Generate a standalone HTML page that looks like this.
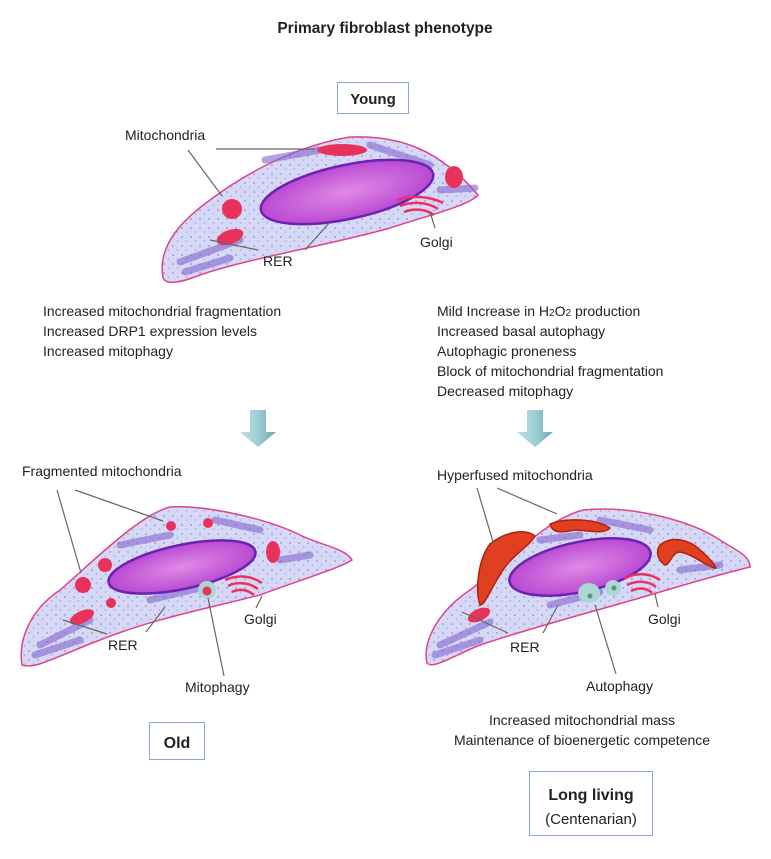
<!DOCTYPE html>
<html><head><meta charset="utf-8"><style>
html,body{margin:0;padding:0;background:#fff;width:771px;height:859px;overflow:hidden}
svg{display:block}
text{font-family:"Liberation Sans",Arial,sans-serif;fill:#222}
</style></head><body>
<svg width="771" height="859" viewBox="0 0 771 859" xmlns="http://www.w3.org/2000/svg">
<defs>
<linearGradient id="ar" x1="0" x2="1" y1="0" y2="0">
<stop offset="0" stop-color="#bfe0e2"/><stop offset="0.5" stop-color="#9ccfd3"/><stop offset="1" stop-color="#6fa9ae"/>
</linearGradient>
<radialGradient id="nuc" cx="0.5" cy="0.5" r="0.6">
<stop offset="0" stop-color="#e08ae6"/><stop offset="1" stop-color="#b23dd0"/>
</radialGradient>
<pattern id="dots" width="9" height="9" patternUnits="userSpaceOnUse">
<circle cx="2" cy="3" r="0.9" fill="#9a8ad8"/><circle cx="6.5" cy="7" r="0.8" fill="#a99ae0"/>
</pattern>
</defs>
<rect width="771" height="859" fill="#fff"/>

<text x="385" y="33" font-size="15.5" font-weight="bold" text-anchor="middle" fill="#111">Primary fibroblast phenotype</text>

<rect x="337.5" y="82.5" width="71" height="31" fill="#fff" stroke="#8aa6d6"/>
<text x="373" y="104" font-size="15" font-weight="bold" text-anchor="middle" fill="#111">Young</text>

<!-- TOP CELL -->
<g>
<path d="M163,278 C158,250 175,225 210,200 C250,170 300,145 350,137 C400,135 440,150 478,195 C470,205 430,215 390,228 C330,245 250,258 200,275 C180,283 166,285 163,278Z" fill="#d6d9f5" stroke="#e0428a" stroke-width="1.5"/>
<path d="M163,278 C158,250 175,225 210,200 C250,170 300,145 350,137 C400,135 440,150 478,195 C470,205 430,215 390,228 C330,245 250,258 200,275 C180,283 166,285 163,278Z" fill="url(#dots)"/>
<g stroke="#8566cf" stroke-width="7" stroke-linecap="round" opacity="0.6">
<path d="M180,262 L240,240"/><path d="M185,272 L230,258"/><path d="M265,160 L320,150"/><path d="M370,145 L430,165"/><path d="M300,222 L370,210"/><path d="M440,190 L475,188"/>
</g>
<ellipse cx="347" cy="192" rx="88" ry="27" transform="rotate(-12 347 192)" fill="url(#nuc)" stroke="#6b22b3" stroke-width="2.5"/>
<g fill="#e8325c">
<ellipse cx="342" cy="150" rx="25" ry="6"/>
<circle cx="232" cy="209" r="10"/>
<ellipse cx="454" cy="177" rx="9" ry="11"/>
<ellipse cx="230" cy="237" rx="14" ry="7" transform="rotate(-20 230 237)"/>
</g>
<g fill="none" stroke="#ee3060" stroke-width="2.5">
<path d="M397,200 C410,195 430,196 443,203"/><path d="M400,206 C412,201 428,202 438,209"/><path d="M404,212 C414,208 426,209 434,215"/>
</g>
</g>
<text x="125" y="140" font-size="14">Mitochondria</text>
<g stroke="#666" stroke-width="1.2" fill="none">
<line x1="216" y1="149" x2="315" y2="149"/>
<line x1="188" y1="150" x2="222" y2="196"/>
<line x1="210" y1="240" x2="258" y2="250"/>
<line x1="305" y1="250" x2="330" y2="222"/>
<line x1="435" y1="228" x2="430" y2="212"/>
</g>
<text x="263" y="266" font-size="14">RER</text>
<text x="420" y="247" font-size="14">Golgi</text>

<g font-size="14">
<text x="43" y="316">Increased mitochondrial fragmentation</text>
<text x="43" y="336">Increased  DRP1 expression levels</text>
<text x="43" y="356">Increased  mitophagy</text>
</g>
<g font-size="14">
<text x="437" y="316">Mild Increase in H<tspan font-size="10">2</tspan>O<tspan font-size="10">2</tspan> production</text>
<text x="437" y="336">Increased basal autophagy</text>
<text x="437" y="356">Autophagic proneness</text>
<text x="437" y="376">Block of mitochondrial fragmentation</text>
<text x="437" y="396">Decreased mitophagy</text>
</g>

<path d="M250,410 L266,410 L266,432 L276,432 L258,447 L240,432 L250,432Z" fill="url(#ar)"/>
<path d="M527,410 L543,410 L543,432 L553,432 L535,447 L517,432 L527,432Z" fill="url(#ar)"/>

<!-- BOTTOM LEFT CELL -->
<text x="22" y="476" font-size="14">Fragmented mitochondria</text>
<path d="M22,665 C18,640 30,610 60,590 C100,555 140,515 170,507 C210,505 270,520 300,535 C320,545 345,548 352,560 C340,568 300,580 260,595 C200,610 150,620 100,640 C60,655 35,670 22,665Z" fill="#d6d9f5" stroke="#e0428a" stroke-width="1.5"/>
<path d="M22,665 C18,640 30,610 60,590 C100,555 140,515 170,507 C210,505 270,520 300,535 C320,545 345,548 352,560 C340,568 300,580 260,595 C200,610 150,620 100,640 C60,655 35,670 22,665Z" fill="url(#dots)"/>
<g stroke="#8566cf" stroke-width="7" stroke-linecap="round" opacity="0.6">
<path d="M40,645 L90,620"/><path d="M35,655 L80,640"/><path d="M120,545 L170,535"/><path d="M215,520 L260,530"/><path d="M150,600 L200,588"/><path d="M280,560 L310,555"/>
</g>
<ellipse cx="182" cy="567" rx="75" ry="22" transform="rotate(-12 182 567)" fill="url(#nuc)" stroke="#6b22b3" stroke-width="2.5"/>
<g fill="#e8325c">
<circle cx="171" cy="526" r="5"/><circle cx="208" cy="523" r="5"/>
<circle cx="105" cy="565" r="7"/><circle cx="83" cy="585" r="8"/>
<circle cx="111" cy="603" r="5"/><ellipse cx="273" cy="552" rx="7" ry="11"/>
<ellipse cx="82" cy="617" rx="13" ry="6" transform="rotate(-25 82 617)"/>
</g>
<circle cx="207" cy="590" r="9" fill="#a9d8d2"/><circle cx="207" cy="591" r="4.5" fill="#e8325c"/>
<g fill="none" stroke="#ee3060" stroke-width="2.5">
<path d="M225,580 C238,574 252,576 262,583"/><path d="M228,586 C238,581 250,583 258,589"/><path d="M232,592 C240,588 248,590 254,595"/>
</g>
<g stroke="#666" stroke-width="1.2" fill="none">
<line x1="57" y1="490" x2="81" y2="573"/>
<line x1="75" y1="490" x2="163" y2="521"/>
<line x1="63" y1="620" x2="107" y2="634"/>
<line x1="146" y1="632" x2="165" y2="607"/>
<line x1="208" y1="598" x2="224" y2="676"/>
<line x1="256" y1="608" x2="262" y2="596"/>
</g>
<text x="108" y="650" font-size="14">RER</text>
<text x="244" y="624" font-size="14">Golgi</text>
<text x="185" y="692" font-size="14">Mitophagy</text>

<rect x="149.5" y="722.5" width="55" height="37" fill="#fff" stroke="#8aa6d6"/>
<text x="177" y="748" font-size="16" font-weight="bold" text-anchor="middle" fill="#111">Old</text>

<!-- BOTTOM RIGHT CELL -->
<text x="437" y="480" font-size="14">Hyperfused mitochondria</text>
<path d="M427,663 C422,640 440,610 470,590 C510,560 545,520 583,510 C630,505 690,520 720,540 C735,550 750,555 750,567 C730,572 700,580 660,592 C600,610 540,625 480,645 C455,655 432,670 427,663Z" fill="#d6d9f5" stroke="#e0428a" stroke-width="1.5"/>
<path d="M427,663 C422,640 440,610 470,590 C510,560 545,520 583,510 C630,505 690,520 720,540 C735,550 750,555 750,567 C730,572 700,580 660,592 C600,610 540,625 480,645 C455,655 432,670 427,663Z" fill="url(#dots)"/>
<g stroke="#8566cf" stroke-width="7" stroke-linecap="round" opacity="0.6">
<path d="M440,645 L490,622"/><path d="M435,655 L480,640"/><path d="M540,540 L580,535"/><path d="M600,520 L650,530"/><path d="M550,605 L600,592"/><path d="M680,570 L720,565"/>
</g>
<ellipse cx="580" cy="567" rx="72" ry="25" transform="rotate(-12 580 567)" fill="url(#nuc)" stroke="#6b22b3" stroke-width="2.5"/>
<g fill="#e04020" stroke="#b02010" stroke-width="1.5">
<path d="M490,544 C505,532 525,528 535,536 C528,548 510,556 500,575 C490,590 485,605 480,605 C475,590 478,560 490,544Z"/>
<path d="M550,524 C565,518 595,518 610,528 C605,535 585,530 575,530 C565,532 553,535 550,524Z"/>
<path d="M660,545 C672,535 690,540 700,550 C712,560 718,570 715,568 C705,566 695,555 680,552 C672,552 670,565 665,565 C658,560 655,552 660,545Z"/>
</g>
<ellipse cx="479" cy="615" rx="12" ry="6" transform="rotate(-25 479 615)" fill="#e8325c"/>
<ellipse cx="589" cy="593" rx="11" ry="10" fill="#a9d8d2"/>
<ellipse cx="613" cy="588" rx="8" ry="8" fill="#a9d8d2"/>
<circle cx="590" cy="596" r="2.5" fill="#6a8a86"/><circle cx="614" cy="588" r="2.5" fill="#6a8a86"/>
<g fill="none" stroke="#ee3060" stroke-width="2.5">
<path d="M624,579 C636,572 650,573 660,580"/><path d="M627,585 C637,580 649,581 656,587"/><path d="M631,591 C639,587 647,588 652,593"/>
</g>
<g stroke="#666" stroke-width="1.2" fill="none">
<line x1="477" y1="488" x2="494" y2="545"/>
<line x1="497" y1="488" x2="557" y2="514"/>
<line x1="462" y1="612" x2="508" y2="633"/>
<line x1="543" y1="633" x2="558" y2="605"/>
<line x1="595" y1="605" x2="616" y2="674"/>
<line x1="658" y1="607" x2="655" y2="594"/>
</g>
<text x="510" y="652" font-size="14">RER</text>
<text x="648" y="624" font-size="14">Golgi</text>
<text x="586" y="691" font-size="14">Autophagy</text>

<g font-size="14" text-anchor="middle">
<text x="582" y="725">Increased mitochondrial mass</text>
<text x="582" y="745">Maintenance of bioenergetic competence</text>
</g>

<rect x="529.5" y="771.5" width="123" height="64" fill="#fff" stroke="#8aa6d6"/>
<text x="591" y="800" font-size="16" font-weight="bold" text-anchor="middle" fill="#111">Long living</text>
<text x="591" y="824" font-size="15" text-anchor="middle" fill="#111">(Centenarian)</text>
</svg>
</body></html>
